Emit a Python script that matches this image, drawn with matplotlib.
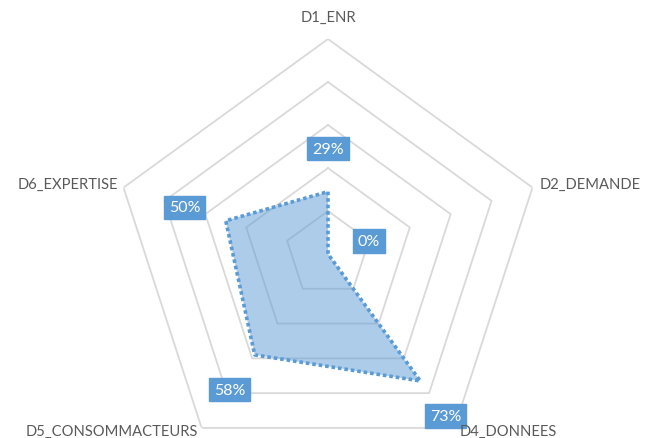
import numpy as np
import matplotlib
matplotlib.use("Agg")
import matplotlib.pyplot as plt

categories = ["D1_ENR", "D2_DEMANDE", "D4_DONNEES", "D5_CONSOMMACTEURS", "D6_EXPERTISE"]
values = [0.29, 0.00, 0.73, 0.58, 0.50]
value_labels = ["29%", "0%", "73%", "58%", "50%"]
ring_levels = [0.2, 0.4, 0.6, 0.8, 1.0]

plt.rcParams['font.family'] = ['Lato', 'DejaVu Sans']

W, H = 646, 439
fig = plt.figure(figsize=(W / 100, H / 100), dpi=100)
cx, cy, R = 328, 255, 215
ax = fig.add_axes([(cx - R) / W, (H - cy - R) / H, 2 * R / W, 2 * R / H], projection='polar')
ax.set_theta_offset(np.pi / 2)
ax.set_theta_direction(-1)
ax.set_ylim(0, 1.0)
ax.grid(False)
ax.set_xticks([])
ax.set_yticks([])
ax.spines['polar'].set_visible(False)
ax.patch.set_visible(False)

n = len(categories)
theta = np.arange(n) * 2 * np.pi / n
theta_closed = np.append(theta, theta[0])

grid_color = '#D9D9D9'
for lvl in ring_levels:
    ax.plot(theta_closed, [lvl] * (n + 1), color=grid_color, lw=1.3, zorder=1)

vals_closed = np.append(values, values[0])
ax.fill(theta_closed, vals_closed, color='#5B9BD5', alpha=0.5, lw=0, zorder=2)
ax.plot(theta_closed, vals_closed, color='#5B9BD5', lw=2.6, linestyle=(0, (1, 0.8)),
        dash_capstyle='butt', zorder=3)

for t, v, lab in zip(theta, values, value_labels):
    ax.text(t, v + 0.2, lab, ha='center', va='center', color='white', fontsize=11.5,
            zorder=5,
            bbox=dict(boxstyle='square,pad=0.3', facecolor='#5B9BD5', edgecolor='#5B9BD5'))

text_color = '#595959'
label_pos = [
    (328, 18, 'center'),
    (540, 185, 'left'),
    (460, 432, 'left'),
    (198, 432, 'right'),
    (118, 185, 'right'),
]
for name, (x, y, ha) in zip(categories, label_pos):
    fig.text(x / W, 1 - y / H, name, ha=ha, va='center', color=text_color, fontsize=10.6)

fig.savefig('out.png', dpi=100, facecolor='white')
